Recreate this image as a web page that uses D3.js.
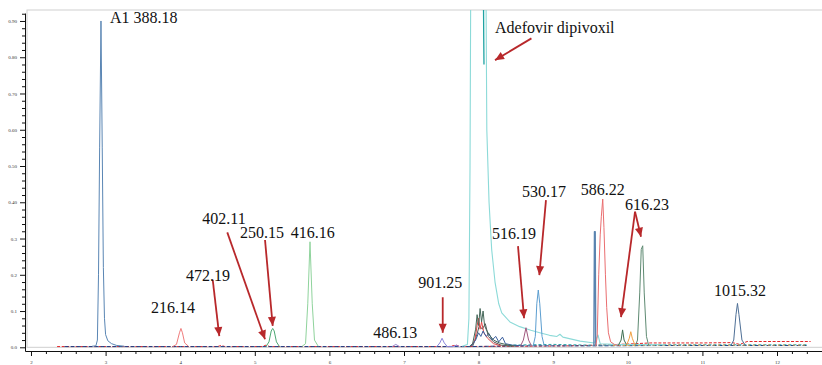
<!DOCTYPE html>
<html><head><meta charset="utf-8">
<script src="https://cdn.jsdelivr.net/npm/d3@7"></script>
<style>body{margin:0;background:#fff;} svg{display:block;}</style>
</head><body>
<svg id="c" width="822" height="365"></svg>
<script>
// ---------- DATA (retention time in min, intensity) ----------
const xTickValues = [2,3,4,5,6,7,8,9,10,11,12];
const xTickLabels = ["2","3","4","5","6","7","8","9","10","11","12"];
const yTickValues = [0,0.1,0.2,0.3,0.4,0.5,0.6,0.7,0.8,0.9];
const yTickLabels = ["0.0","0.1","0.2","0.3","0.40","0.50","0.60","0.70","0.80","0.90"];

const redBase = [[2.35,0.002],[3.9,0.002],[4.5,0.002],[4.55,0.005],[4.6,0.002],[5.1,0.002],[5.15,0.006],[5.2,0.002],[7.6,0.002],[7.7,0.006],[7.75,0.002],[8.6,0.003],[9.2,0.004],[9.6,0.006],[10.0,0.009],[10.3,0.012],[11.0,0.012],[11.4,0.013],[11.5,0.008],[11.6,0.016],[12.0,0.016],[12.45,0.016]];
const navyBase = [[2.45,0.002],[4.0,0.002],[6.0,0.002],[7.9,0.002],[8.5,0.004],[9.5,0.004],[10.5,0.005],[11.5,0.005],[12.4,0.005]];
const tealBase = [[8.4,0.006],[9.0,0.008],[9.5,0.006],[10.5,0.007],[11.5,0.007],[12.4,0.007]];
const orangeBase = [[9.8,0.005],[10.5,0.006],[11.5,0.006],[12.4,0.006]];

const a1Peak = [[2.82,0.003],[2.87,0.004],[2.89,0.02],[2.905,0.2],[2.92,0.55],[2.938,0.90],[2.955,0.55],[2.97,0.22],[2.985,0.08],[3.0,0.035],[3.03,0.018],[3.08,0.01],[3.15,0.005],[3.25,0.003]];
const p216 = [[3.9,0.002],[3.95,0.008],[3.99,0.04],[4.01,0.052],[4.03,0.04],[4.06,0.012],[4.11,0.003]];
const p250 = [[5.15,0.002],[5.19,0.015],[5.22,0.045],[5.24,0.052],[5.26,0.045],[5.29,0.015],[5.33,0.002]];
const p416 = [[5.63,0.002],[5.68,0.01],[5.71,0.12],[5.74,0.291],[5.77,0.12],[5.80,0.02],[5.85,0.003]];
const p486 = [[6.84,0.002],[6.89,0.008],[6.94,0.002]];
const p901 = [[7.44,0.002],[7.48,0.012],[7.51,0.025],[7.54,0.012],[7.58,0.002],[7.66,0.002],[7.70,0.006],[7.74,0.002]];
const adefovirLight = [[7.78,0.003],[7.85,0.008],[7.87,0.08],[7.885,0.5],[7.90,1.3],[8.09,1.3],[8.11,0.6],[8.14,0.4],[8.175,0.27],[8.22,0.18],[8.27,0.12],[8.31,0.095],[8.42,0.07],[8.55,0.057],[8.7,0.047],[8.82,0.04],[8.95,0.033],[9.05,0.03],[9.09,0.036],[9.13,0.028],[9.36,0.017],[9.55,0.012],[9.6,0.034],[9.63,0.01],[9.8,0.008],[10.5,0.007]];
const adefovirDark = [[8.066,0.935],[8.069,0.85],[8.072,0.78]];
const clusterGreen = [[7.88,0.003],[7.92,0.01],[7.96,0.05],[7.98,0.09],[8.0,0.06],[8.02,0.107],[8.04,0.07],[8.06,0.1],[8.08,0.06],[8.1,0.05],[8.14,0.035],[8.2,0.02],[8.28,0.012],[8.4,0.006],[8.5,0.003]];
const clusterRed = [[7.9,0.003],[7.95,0.02],[7.98,0.06],[8.0,0.08],[8.02,0.05],[8.04,0.07],[8.07,0.04],[8.12,0.025],[8.2,0.01],[8.3,0.004]];
const clusterNavy = [[7.9,0.003],[7.96,0.02],[8.0,0.04],[8.03,0.03],[8.06,0.045],[8.1,0.03],[8.14,0.038],[8.18,0.02],[8.23,0.03],[8.27,0.015],[8.32,0.028],[8.36,0.01],[8.45,0.006],[8.6,0.004]];
const clusterGray = [[7.92,0.003],[7.97,0.03],[8.01,0.06],[8.05,0.05],[8.09,0.065],[8.13,0.03],[8.2,0.015],[8.3,0.006],[8.45,0.003]];
const p516 = [[8.56,0.003],[8.6,0.02],[8.635,0.054],[8.67,0.02],[8.71,0.003]];
const p530 = [[8.73,0.003],[8.76,0.03],[8.78,0.12],[8.80,0.158],[8.82,0.12],[8.85,0.03],[8.88,0.004]];
const pBar = [[9.545,0.004],[9.553,0.319],[9.563,0.319],[9.57,0.004]];
const p586 = [[9.57,0.003],[9.59,0.03],[9.61,0.2],[9.63,0.31],[9.645,0.36],[9.664,0.409],[9.68,0.33],[9.70,0.2],[9.717,0.11],[9.74,0.04],[9.77,0.015],[9.82,0.008],[9.9,0.004]];
const p616a = [[9.87,0.004],[9.91,0.02],[9.93,0.048],[9.95,0.02],[9.99,0.004]];
const pOrange = [[9.98,0.004],[10.02,0.025],[10.04,0.043],[10.06,0.025],[10.1,0.004]];
const p616 = [[10.1,0.003],[10.13,0.02],[10.16,0.15],[10.18,0.27],[10.2,0.28],[10.22,0.15],[10.25,0.03],[10.28,0.005]];
const p1015 = [[11.38,0.004],[11.42,0.02],[11.45,0.09],[11.47,0.121],[11.49,0.09],[11.53,0.02],[11.58,0.004]];

const labelTexts = ["A1 388.18","Adefovir dipivoxil","216.14","472.19","402.11","250.15","416.16","486.13","901.25","516.19","530.17","586.22","616.23","1015.32"];
const labelX = [3.059,8.220,3.609,4.078,4.296,4.802,5.481,6.588,7.192,8.180,8.582,9.369,9.962,11.155];
const labelY = [0.894,0.866,0.094,0.183,0.339,0.302,0.302,0.025,0.163,0.299,0.414,0.420,0.379,0.141];

const arrowFrom = [[8.708,0.852],[4.436,0.186],[4.631,0.317],[5.137,0.296],[7.519,0.138],[8.528,0.279],[8.903,0.406],[10.097,0.374],[10.097,0.374]];
const arrowTo   = [[8.220,0.792],[4.524,0.031],[5.137,0.022],[5.240,0.059],[7.519,0.040],[8.609,0.080],[8.814,0.199],[9.909,0.083],[10.177,0.305]];

// ---------- STYLES ----------
const SERIF = "'Liberation Serif','Times New Roman',serif";
const series = [
  {d: redBase, c:"#e3262a", dash:"3,1.6", w:1},
  {d: navyBase, c:"#1f3f86", dash:"4,2", w:1},
  {d: tealBase, c:"#2aa3a8", dash:"3,2", w:1},
  {d: orangeBase, c:"#e8a040", dash:"2,3", w:1},
  {d: adefovirLight, c:"#8cdad8", w:1.1},
  {d: adefovirDark, c:"#1fa3a3", w:1.3},
  {d: a1Peak, c:"#5a86b4", w:1},
  {d: p216, c:"#f07c7c", w:1},
  {d: p250, c:"#4ea874", w:1},
  {d: p416, c:"#8fd39c", w:1},
  {d: p486, c:"#9a8ad0", w:1},
  {d: p901, c:"#8a84dc", w:1},
  {d: clusterGray, c:"#555555", w:1},
  {d: clusterRed, c:"#e04848", w:1},
  {d: clusterNavy, c:"#3a5e9e", w:1},
  {d: clusterGreen, c:"#46685a", w:1},
  {d: p516, c:"#a0587e", w:1},
  {d: p530, c:"#5c9ed0", w:1},
  {d: pBar, c:"#5a84b0", w:1.4},
  {d: p586, c:"#ea6e70", w:1},
  {d: p616a, c:"#3e6e52", w:1},
  {d: pOrange, c:"#f0a040", w:1},
  {d: p616, c:"#5e8a72", w:1},
  {d: p1015, c:"#4e6f96", w:1}
];

const svg = d3.select("#c");
const x = d3.scaleLinear().domain([1.9196, 12.603]).range([25, 822]);
const y = d3.scaleLinear().domain([-0.0102, 0.922]).range([351, 13]);

// frame
svg.append("rect").attr("x",27).attr("y",10).attr("width",820).attr("height",y(0)-10)
  .attr("fill","none").attr("stroke","#cfcfcf").attr("stroke-width",1);

const defs = svg.append("defs");
defs.append("clipPath").attr("id","clip").append("rect")
  .attr("x",25).attr("y",10).attr("width",800).attr("height",341);
defs.append("marker").attr("id","ah").attr("viewBox","0 -5 10 10")
  .attr("refX",10).attr("refY",0).attr("markerWidth",10).attr("markerHeight",9)
  .attr("markerUnits","userSpaceOnUse").attr("orient","auto")
  .append("path").attr("d","M0,-4.5L10,0L0,4.5Z").attr("fill","#b8282b");

const line = d3.line().x(d=>x(d[0])).y(d=>y(d[1]));
const g = svg.append("g").attr("clip-path","url(#clip)");
series.forEach(s=>{
  g.append("path").attr("d",line(s.d)).attr("fill","none")
   .attr("stroke",s.c).attr("stroke-width",s.w)
   .attr("stroke-dasharray",s.dash||null).attr("stroke-linejoin","round");
});

// axes
const xMinor = d3.range(20,126,2).map(v=>v/10).filter(v=>!Number.isInteger(v));
svg.append("g").attr("transform","translate(0,351)")
  .call(d3.axisBottom(x).tickValues(xMinor).tickSize(3).tickSizeOuter(0).tickFormat(""))
  .call(a=>a.select(".domain").remove());
const xa = svg.append("g").attr("transform","translate(0,351)")
  .call(d3.axisBottom(x).tickValues(xTickValues).tickSize(5).tickSizeOuter(0).tickPadding(4)
    .tickFormat((d,i)=>xTickLabels[i]));
xa.selectAll("text").style("font-family",SERIF).style("font-size","5px").attr("fill","#333");

const yMinor = d3.range(0,93,2).map(v=>v/100).filter(v=>Math.round(v*100)%10!==0);
svg.append("g").attr("transform","translate(25,0)")
  .call(d3.axisLeft(y).tickValues(yMinor).tickSize(3).tickSizeOuter(0).tickFormat(""))
  .call(a=>a.select(".domain").remove());
const ya = svg.append("g").attr("transform","translate(25,0)")
  .call(d3.axisLeft(y).tickValues(yTickValues).tickSize(5).tickSizeOuter(0).tickPadding(3)
    .tickFormat((d,i)=>yTickLabels[i]));
ya.selectAll("text").style("font-family",SERIF).style("font-size","5px").attr("fill","#333");
svg.selectAll(".tick line, .domain").attr("stroke","#111");

// arrows
arrowFrom.forEach((f,i)=>{
  const t = arrowTo[i];
  svg.append("line").attr("x1",x(f[0])).attr("y1",y(f[1])).attr("x2",x(t[0])).attr("y2",y(t[1]))
    .attr("stroke","#b8282b").attr("stroke-width",1.8).attr("marker-end","url(#ah)");
});

// labels
labelTexts.forEach((t,i)=>{
  svg.append("text").attr("x",x(labelX[i])).attr("y",y(labelY[i]))
    .style("font-family",SERIF).style("font-size","16px").attr("fill","#111").text(t);
});
</script>
</body></html>
